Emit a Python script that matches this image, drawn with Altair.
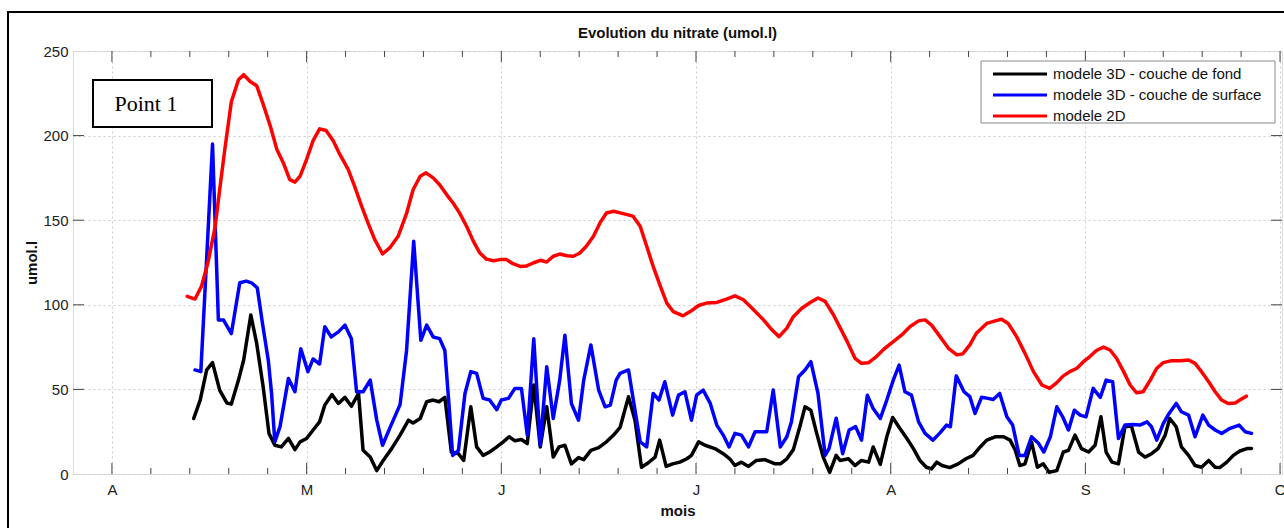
import altair as alt
import pandas as pd

# ---------------- data ----------------
MONTH_LABELS = ["A", "M", "J", "J", "A", "S", "O"]
MONTH_POS = [0, 30, 60, 90, 120, 150, 180]
Y_TICKS = [0, 50, 100, 150, 200, 250]
MINOR_POS = [d for d in range(0, 181, 6) if d % 30 != 0]

TITLE = "Evolution du nitrate (umol.l)"
SERIES = ["modele 3D - couche de fond", "modele 3D - couche de surface", "modele 2D"]
COLORS = ["#000000", "#0000ff", "#ff0000"]

black_day = [12.6, 13.6, 14.6, 15.5, 16.6, 17.7, 18.4, 19.5, 20.3, 21.4, 22.3, 23.3, 24.2, 25.1, 26.1, 27.2,
             28.2, 29.0, 30.0, 31.0, 32.0, 32.8, 33.9, 34.9, 35.9, 36.9, 38.0, 38.7, 39.8, 40.8, 41.8, 43.1,
             44.4, 45.7, 46.4, 47.5, 48.5, 49.5, 50.4, 51.3, 52.3, 53.4, 54.2, 55.3, 56.2, 57.2, 58.2, 59.3,
             60.3, 61.2, 62.1, 63.1, 64.0, 65.0, 66.0, 67.0, 68.0, 68.9, 69.8, 70.8, 71.9, 72.7, 73.8, 75.0,
             76.2, 77.3, 78.3, 79.6, 80.6, 81.6, 82.6, 83.7, 84.4, 85.4, 86.4, 87.5, 88.6, 89.3, 90.4, 91.4,
             92.9, 94.2, 95.2, 96.0, 97.0, 98.1, 99.3, 100.6, 102.2, 103.0, 104.0, 105.0, 106.0, 106.8, 107.7,
             108.6, 109.6, 110.6, 111.6, 112.2, 113.5, 114.5, 115.5, 116.6, 117.3, 118.4, 119.4, 120.3, 121.4,
             122.5, 123.5, 124.5, 125.5, 126.3, 127.1, 127.9, 129.1, 130.4, 131.6, 132.7, 133.8, 134.8, 136.1,
             137.4, 138.4, 139.2, 139.9, 140.7, 141.7, 142.6, 143.5, 144.4, 145.6, 146.6, 147.4, 148.4, 149.4,
             150.5, 151.5, 152.4, 153.2, 154.1, 155.1, 156.1, 157.1, 158.2, 159.2, 160.2, 161.2, 162.3, 163.0,
             164.0, 164.8, 165.9, 166.9, 167.9, 169.0, 170.0, 170.7, 171.8, 172.8, 173.8, 174.9, 175.6]
black_val = [32.8, 43.7, 61.5, 65.8, 49.6, 42, 41.3, 55.5, 67.4, 94, 77.3, 51.6, 24, 17, 16, 21,
             14.4, 19, 21, 26, 30.8, 40.7, 47, 41.7, 45.3, 40, 47.6, 14, 10, 2, 8, 15,
             23, 31.8, 30.2, 32.8, 42.7, 43.7, 42.7, 45.3, 13, 12, 8, 39.7, 16, 11, 13, 16,
             19, 22, 19.6, 20.4, 18, 52.6, 16, 39.7, 10, 16, 17, 6, 9.7, 8.5, 14, 15.6,
             19, 23, 27.5, 45.7, 31.8, 4, 6.5, 10, 20, 4.5, 6, 7, 9, 11, 19, 17,
             15, 12, 9, 5, 7, 4.5, 8, 8.5, 6, 6, 9, 14.4, 27.9, 39.7, 37.7,
             24, 10, 1, 11, 8, 9, 5, 8, 7, 16, 5.7, 22, 33.4, 27,
             21, 15, 8, 4, 3, 7, 5, 3.8, 6, 9, 11, 16, 20, 22,
             22, 20, 14, 5, 6, 19, 4, 6, 1, 2, 13, 14, 23, 15,
             13, 17, 33.8, 13, 7, 6, 27.9, 28.3, 13, 10, 12, 15, 23, 32.8,
             27.9, 16, 11, 5, 4, 8, 4, 3.8, 7, 11, 13.6, 15, 15]

blue_day = [12.8, 13.7, 15.5, 16.4, 17.2, 18.4, 19.7, 20.7, 21.5, 22.4, 23.2, 24.1, 24.6, 25.1, 25.9, 27.2,
            28.2, 29.1, 30.2, 31.0, 32.0, 32.8, 33.8, 34.9, 35.9, 36.9, 37.7, 38.7, 39.8, 40.8, 41.7, 42.8,
            44.4, 45.4, 46.5, 47.6, 48.5, 49.5, 50.5, 51.3, 52.0, 52.5, 53.4, 54.4, 55.3, 56.2, 57.2, 58.2,
            59.3, 60.0, 61.1, 62.1, 63.1, 64.0, 65.0, 66.0, 67.0, 68.0, 69.0, 69.8, 70.8, 71.9, 72.7, 73.8,
            75.0, 76.0, 76.8, 77.7, 78.3, 79.6, 80.6, 81.4, 82.4, 83.4, 84.3, 85.2, 86.4, 87.3, 88.3, 89.3,
            90.1, 91.1, 92.2, 93.2, 94.2, 95.1, 96.0, 97.0, 98.1, 99.1, 100.1, 100.9, 101.9, 103.0, 104.0,
            104.7, 105.8, 106.8, 107.7, 108.8, 109.9, 110.5, 111.6, 112.6, 113.6, 114.6, 115.5, 116.4, 117.3,
            118.4, 119.4, 120.4, 121.3, 122.2, 123.2, 124.3, 125.3, 126.5, 127.6, 128.6, 129.2, 130.1, 131.3,
            132.2, 133.0, 134.0, 135.0, 135.8, 136.8, 137.9, 138.8, 139.8, 140.7, 141.7, 142.8, 143.6, 144.6,
            145.6, 146.5, 147.4, 148.3, 149.2, 150.1, 151.2, 152.3, 153.2, 154.2, 155.1, 156.1, 157.4, 158.4,
            159.5, 160.2, 161.0, 162.0, 162.9, 164.0, 164.8, 165.9, 166.9, 168.1, 169.0, 170.0, 171.0, 172.3,
            173.7, 174.6, 175.6]
blue_val = [61.5, 60.5, 195, 91, 91, 83, 113, 114, 113, 110, 89, 67, 47.6, 19, 28, 56.5,
            48.6, 74, 60.5, 68, 65, 87, 81, 84, 88, 80, 48.6, 48.6, 55.5, 32, 17, 27,
            41, 73, 137.5, 79, 88, 81, 80, 73, 37.7, 11, 14, 47.6, 60.5, 59.5, 44.7, 43.7,
            38, 43.7, 44.7, 50.6, 50.6, 23, 80, 17, 63.4, 32.8, 55.5, 82, 41.7, 31.8, 55.5, 76.3,
            49.6, 39.7, 40.7, 55.5, 59.5, 61.5, 37.7, 19, 16, 47.6, 43.7, 54.5, 34.8, 46.6, 48.6, 31.8,
            46.6, 49.6, 41.7, 28.9, 23, 16, 24, 23, 16, 25, 25, 25, 49.6, 16, 22,
            30.8, 57.5, 61.5, 66.4, 47.6, 11, 15, 33, 12, 26, 28, 20, 46.6, 38.7,
            32.8, 43.7, 55.5, 64.4, 48.6, 46.6, 30.8, 24, 20, 24.3, 28.9, 27.9, 58, 48.6,
            45.7, 35.8, 45.3, 44.7, 44, 47.6, 33.8, 28.9, 11, 11, 22, 18, 13, 22,
            39.7, 33.8, 26, 37.7, 34.8, 33.8, 50.6, 45.3, 55.5, 54.5, 21, 28.9, 29.2, 28.9,
            30.8, 27.9, 20, 29.8, 35.8, 41.7, 36.8, 34.8, 22, 34.8, 28.9, 26, 24, 27,
            28.9, 25, 24]

red_day = [11.6, 12.8, 13.8, 14.8, 15.9, 16.6, 17.4, 18.4, 19.5, 20.3, 21.3, 22.3, 23.3, 24.4, 25.4, 26.4,
           27.4, 28.2, 29.0, 30.0, 31.0, 32.0, 33.0, 34.1, 35.1, 36.4, 37.4, 38.5, 39.5, 40.5, 41.7, 42.8,
           44.1, 45.4, 46.4, 47.5, 48.4, 49.5, 50.5, 51.6, 52.6, 53.6, 54.7, 55.7, 56.7, 57.7, 58.8, 59.8,
           60.8, 61.8, 62.9, 63.9, 64.9, 66.0, 67.0, 68.0, 69.0, 70.1, 71.1, 72.1, 73.1, 74.2, 75.2, 76.2,
           77.3, 78.3, 80.3, 81.4, 82.4, 83.4, 84.5, 85.5, 86.5, 88.0, 89.1, 90.4, 91.6, 93.2, 94.7, 96.0,
           97.3, 98.8, 100.4, 101.7, 102.8, 104.0, 105.0, 106.3, 107.6, 108.8, 109.9, 111.2, 112.2, 113.2,
           114.5, 115.5, 116.6, 117.8, 119.1, 120.4, 121.7, 123.0, 124.3, 125.3, 126.3, 127.6, 128.9, 130.2,
           131.1, 132.2, 133.2, 134.8, 136.1, 137.1, 138.1, 139.4, 140.7, 142.0, 143.3, 144.5, 145.6, 146.6,
           147.6, 148.7, 149.7, 150.7, 151.7, 152.8, 153.8, 154.8, 155.9, 156.9, 157.9, 158.9, 160.0, 161.0,
           162.0, 163.3, 164.6, 165.9, 166.9, 167.9, 169.0, 170.0, 171.0, 172.0, 173.1, 173.8, 174.8]
red_val = [105, 103.4, 111, 125, 146, 168, 192, 220, 233, 236, 232, 229.5, 218.6, 205.7, 192, 184,
           174, 172.5, 176, 186, 197, 204, 203, 197, 189, 180, 170, 158, 148, 138.5, 130, 133.6,
           140.5, 154, 168, 176, 178, 175, 171, 165, 160, 154, 146, 137.5, 130.6, 127, 126, 126.7,
           126.7, 124.3, 122.7, 123, 124.7, 126.3, 125.3, 128.7, 130, 129, 128.7, 130.6, 134.6, 140.5, 148.4, 154.3,
           155.3, 154.3, 152.4, 146.4, 134.6, 122.7, 111, 101, 96, 93.5, 96, 99.6, 101, 101.4, 103.4, 105.3,
           103, 97.4, 91.1, 85.2, 81.2, 86.2, 93, 98, 101.4, 104, 102, 94, 86.5, 79,
           68.4, 65.4, 65.8, 69.4, 74.3, 78.3, 82.2, 87.2, 90.5, 91.1, 88, 81.2, 74.3, 70.4,
           71, 76.3, 83.2, 89, 90.5, 91.5, 89, 81.2, 71.3, 60.5, 52.6, 50.6, 54, 58,
           60.5, 62.5, 66.4, 69.4, 73, 75, 73.3, 68.4, 60.5, 52.6, 48, 48.6, 55.5, 62.5,
           65.8, 67, 67, 67.4, 65.4, 60.5, 54.5, 48.6, 43.7, 41.7, 42, 43.7, 46]

# ---------------- layout ----------------
W, H = 1209, 423
FONT = "Liberation Sans"
AX = "#444444"
GRID = "#cdcdcd"

xscale = alt.Scale(domain=[-6, 180.3], nice=False, zero=False)
yscale = alt.Scale(domain=[0, 250], nice=False, zero=True)

label_expr = "[" + ",".join("'%s'" % m for m in MONTH_LABELS) + "][round(datum.value/30)]"
x_axis = alt.Axis(values=MONTH_POS, labelExpr=label_expr, grid=True, gridDash=[2, 3],
                  gridColor=GRID, ticks=False, domain=False, labelFontSize=15,
                  labelFont=FONT, labelColor="#222222", labelPadding=8, title="mois",
                  titleFont=FONT, titleFontSize=15, titleFontWeight="bold", titleColor="#111111",
                  titlePadding=6)
y_axis = alt.Axis(values=Y_TICKS, grid=True, gridDash=[2, 3], gridColor=GRID, ticks=False,
                  domain=False, labelFontSize=15, labelFont=FONT, labelColor="#222222",
                  labelPadding=5, title="umol.l", titleFont=FONT, titleFontSize=15,
                  titleFontWeight="bold", titleColor="#111111", titlePadding=3)

X = lambda f: alt.X(f + ":Q", scale=xscale, axis=x_axis)
Y = lambda f: alt.Y(f + ":Q", scale=yscale, axis=y_axis)


def series_layer(days, vals, color):
    df = pd.DataFrame({"day": days, "val": vals})
    return alt.Chart(df).mark_line(color=color, strokeWidth=3.5, strokeJoin="round",
                                   strokeCap="round").encode(x=X("day"), y=Y("val"), order="day:Q")


lines = [series_layer(black_day, black_val, COLORS[0]),
         series_layer(blue_day, blue_val, COLORS[1]),
         series_layer(red_day, red_val, COLORS[2])]

major_df = pd.DataFrame({"day": MONTH_POS})
minor_df = pd.DataFrame({"day": MINOR_POS})
ytick_df = pd.DataFrame({"val": Y_TICKS[1:-1]})

ticks = []
for df, ln in [(major_df, 11), (minor_df, 6)]:
    ticks.append(alt.Chart(df).mark_rule(color=AX, strokeWidth=1).encode(
        x=X("day"), y=alt.value(H), y2=alt.value(H - ln)))
    ticks.append(alt.Chart(df).mark_rule(color=AX, strokeWidth=1).encode(
        x=X("day"), y=alt.value(0), y2=alt.value(ln)))
ticks.append(alt.Chart(ytick_df).mark_rule(color=AX, strokeWidth=1).encode(
    y=Y("val"), x=alt.value(0), x2=alt.value(11)))
ticks.append(alt.Chart(ytick_df).mark_rule(color=AX, strokeWidth=1).encode(
    y=Y("val"), x=alt.value(W), x2=alt.value(W - 11)))

one = alt.Data(values=[{}])

# outer figure frame
frame = alt.Chart(one).mark_rect(fillOpacity=0, stroke="#000000", strokeWidth=2).encode(
    x=alt.value(-65), x2=alt.value(W + 30), y=alt.value(-39), y2=alt.value(H + 80))

# chart title
title = alt.Chart(one).mark_text(text=TITLE, font=FONT, fontSize=15, fontWeight="bold",
                                 align="center", baseline="alphabetic", color="#111111").encode(
    x=alt.value(W / 2), y=alt.value(-13))

# "Point 1" annotation
pbox = alt.Chart(one).mark_rect(fill="#ffffff", stroke="#000000", strokeWidth=2).encode(
    x=alt.value(20), x2=alt.value(139), y=alt.value(29), y2=alt.value(76))
ptext = alt.Chart(one).mark_text(text="Point 1", font="Liberation Serif", fontSize=22,
                                 align="center", baseline="alphabetic", color="#000000").encode(
    x=alt.value(73), y=alt.value(60))

# legend
leg = [alt.Chart(one).mark_rect(fill="#ffffff", stroke="#8a8a8a", strokeWidth=1).encode(
    x=alt.value(908), x2=alt.value(1202), y=alt.value(10), y2=alt.value(72))]
for i, (name, col) in enumerate(zip(SERIES, COLORS)):
    yy = 23 + 21 * i
    leg.append(alt.Chart(one).mark_rule(color=col, strokeWidth=3).encode(
        x=alt.value(920), x2=alt.value(974), y=alt.value(yy)))
    leg.append(alt.Chart(one).mark_text(text=name, font=FONT, fontSize=15, align="left",
                                        baseline="middle", color="#111111").encode(
        x=alt.value(980), y=alt.value(yy)))

chart = alt.layer(frame, title, *lines, *ticks, pbox, ptext, *leg).properties(
    width=W, height=H,
    autosize=alt.AutoSizeParams(type="none"),
    padding={"left": 73, "top": 51, "right": 2, "bottom": 54},
).configure_view(stroke=AX, strokeWidth=1).configure(background="#ffffff")

chart.save("out.html", embed_options={"renderer": "svg", "actions": False})
